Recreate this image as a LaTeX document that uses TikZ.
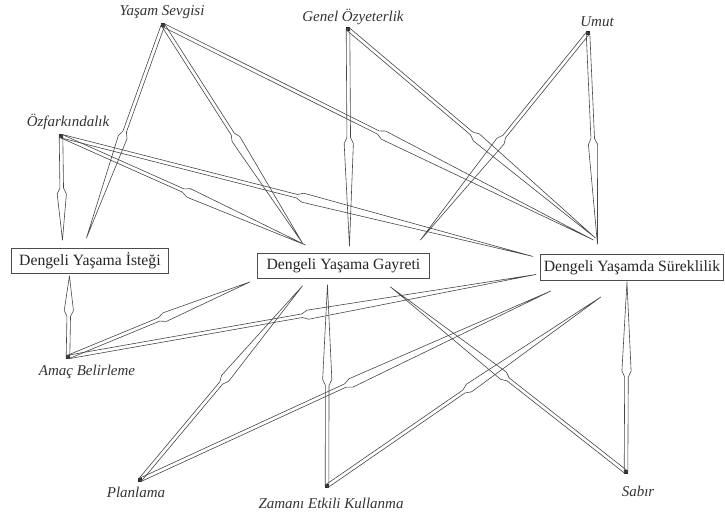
\documentclass[tikz,border=0pt]{standalone}
\usepackage{fontspec}
\setmainfont{Liberation Serif}
\usetikzlibrary{calc}

\tikzset{
  linkline/.style={draw=black!72, line width=0.6pt, line join=round},
  concept/.style={font=\fontsize{15}{18}\selectfont\itshape, text=black!80, inner sep=0pt},
  dotn/.style={rectangle, fill=black!85, minimum size=4pt, inner sep=0pt},
  boxn/.style={rectangle, draw=black!70, line width=0.9pt, fill=white,
    font=\fontsize{15.7}{18}\selectfont, text=black!85, inner sep=0pt,
    minimum height=25pt, anchor=north west},
}

% A link: thin double shaft from the source, widening at half way
% into a long tapering head that ends in a point at the target.
\newcommand{\linkarrow}[2]{%
  \coordinate (lk-m) at ($(#1)!0.5!(#2)$);
  \coordinate (lk-s) at ($(lk-m)!6pt!(#2)$);
  \draw[linkline]
    ($(#1)!1.8pt!90:(#2)$)
    -- ($(lk-m)!1.8pt!-90:(#1)$)
    -- ($(lk-s)!4.6pt!-90:(#1)$)
    -- (#2)
    -- ($(lk-s)!4.6pt!90:(#1)$)
    -- ($(lk-m)!1.8pt!90:(#1)$)
    -- ($(#1)!1.8pt!-90:(#2)$)
    -- cycle;
}

\begin{document}
\begin{tikzpicture}[x=1pt, y=-1pt]
\useasboundingbox (0,0) rectangle (725,515);

% outcome boxes
\node[boxn, minimum width=157pt] (ist) at (11,248) {Dengeli Yaşama İsteği};
\node[boxn, minimum width=172pt] (gay) at (257,253) {Dengeli Yaşama Gayreti};
\node[boxn, minimum width=183pt, minimum height=26pt] (sur) at (540,254) {Dengeli Yaşamda Süreklilik};

% concept points
\node[dotn] (ys) at (163,25) {};
\node[dotn] (go) at (348,29) {};
\node[dotn] (um) at (588,33) {};
\node[dotn] (oz) at (61,136) {};
\node[dotn] (am) at (68,357) {};
\node[dotn] (pl) at (140,480) {};
\node[dotn] (ze) at (327,486) {};
\node[dotn] (sa) at (626,472) {};

% concept labels
\node[concept] (lys) at (162,12) {Yaşam Sevgisi};
\node[concept] (lgo) at (353,17) {Genel Özyeterlik};
\node[concept] (lum) at (597,22) {Umut};
\node[concept] (loz) at (68,122) {Özfarkındalık};
\node[concept] (lam) at (87,372) {Amaç Belirleme};
\node[concept] (lpl) at (136,492) {Planlama};
\node[concept] (lze) at (331,503) {Zamanı Etkili Kullanma};
\node[concept] (lsa) at (638,491) {Sabır};

% link end points at the boxes
\coordinate (ist-ys) at ($(ist.north)+(-3.5,-10)$);
\coordinate (ist-oz) at ($(ist.north)+(-27.5,-8)$);
\coordinate (ist-am) at ($(ist.south)+(-20.5,2)$);

\coordinate (gay-ys) at ($(gay.north)+(-41,-10)$);
\coordinate (gay-oz) at ($(gay.north)+(-38,-8)$);
\coordinate (gay-go) at ($(gay.north)+(6,-7)$);
\coordinate (gay-um) at ($(gay.north)+(77,-13)$);
\coordinate (gay-am) at ($(gay.south west)+(-7,3)$);
\coordinate (gay-pl) at ($(gay.south)+(-41,7)$);
\coordinate (gay-ze) at ($(gay.south)+(-16,6)$);
\coordinate (gay-sa) at ($(gay.south)+(47,8)$);

\coordinate (sur-ys) at ($(sur.north)+(-38.5,-14)$);
\coordinate (sur-go) at ($(sur.north)+(-36.5,-16)$);
\coordinate (sur-um) at ($(sur.north)+(-34.5,-10)$);
\coordinate (sur-oz) at ($(sur.west)+(-7,-11)$);
\coordinate (sur-am) at ($(sur.west)+(-4,7)$);
\coordinate (sur-pl) at ($(sur.south)+(-81,10)$);
\coordinate (sur-ze) at ($(sur.south)+(-31,16)$);
\coordinate (sur-sa) at ($(sur.south)+(-5,1)$);

% links
\linkarrow{ys}{ist-ys}
\linkarrow{oz}{ist-oz}
\linkarrow{am}{ist-am}

\linkarrow{ys}{gay-ys}
\linkarrow{oz}{gay-oz}
\linkarrow{go}{gay-go}
\linkarrow{um}{gay-um}
\linkarrow{am}{gay-am}
\linkarrow{pl}{gay-pl}
\linkarrow{ze}{gay-ze}
\linkarrow{sa}{gay-sa}

\linkarrow{ys}{sur-ys}
\linkarrow{go}{sur-go}
\linkarrow{um}{sur-um}
\linkarrow{oz}{sur-oz}
\linkarrow{am}{sur-am}
\linkarrow{pl}{sur-pl}
\linkarrow{ze}{sur-ze}
\linkarrow{sa}{sur-sa}

\end{tikzpicture}
\end{document}
